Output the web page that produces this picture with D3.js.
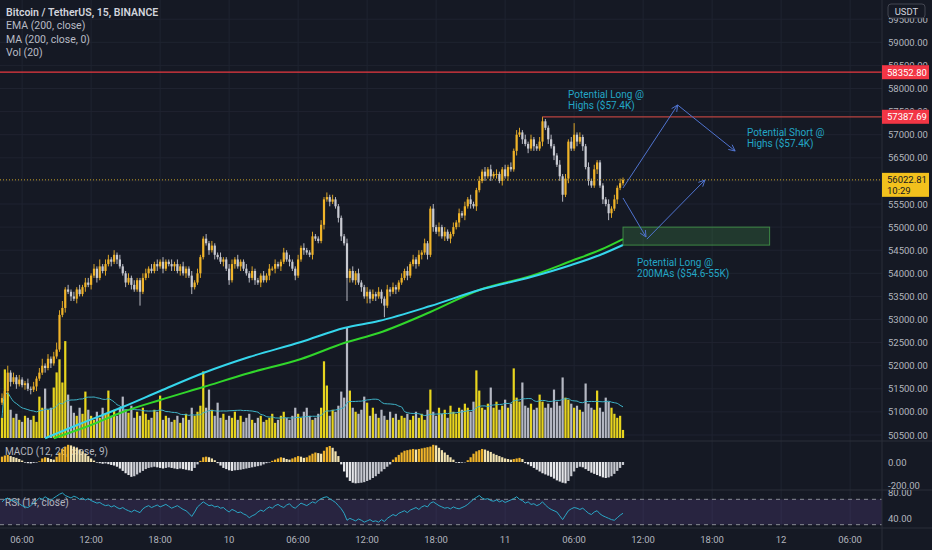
<!DOCTYPE html>
<html><head><meta charset="utf-8">
<script src="https://cdn.jsdelivr.net/npm/d3@7"></script>
<style>
html,body{margin:0;padding:0;background:#151924;overflow:hidden}
svg{display:block}
text{font-family:Roboto,"Noto Sans",sans-serif}
</style></head><body>
<svg id="c" width="932" height="550"></svg>
<script>
// ---------------- DATA ----------------
const firstOpen = 51200;
const closes = [
51300,51450,51850,51650,51750,51600,51700,51580,51620,51500,
51480,51550,51720,51850,52000,51950,52150,52050,52200,52350,
53100,53250,53650,53600,53500,53450,53650,53550,53700,53800,
53750,53950,54100,53900,54150,54050,54200,54300,54250,54400,
54300,54150,54000,53800,53900,53750,53650,53850,53600,53900,
54000,54100,54050,54200,54150,54250,54100,54250,54200,54150,
54200,54050,54150,54000,54100,53950,53700,53800,54000,54350,
54750,54650,54500,54600,54400,54350,54250,54300,54100,53850,
54200,54300,54150,54250,54100,54000,53900,54050,53850,53800,
53950,53850,53950,54100,54100,54200,54150,54250,54450,54300,
54250,54100,53950,54300,54550,54500,54450,54400,54800,54750,
54700,55050,55600,55650,55550,55600,55450,55200,54800,54650,
53900,54050,53850,54000,53800,53700,53500,53600,53450,53550,
53500,53600,53450,53300,53650,53600,53700,53650,53800,53900,
54050,53950,54200,54300,54200,54400,54450,54650,54400,55400,
55000,54900,55000,54800,54900,54750,54850,55000,55100,55300,
55250,55450,55600,55500,55450,55800,56000,56200,56100,56250,
56100,56150,56150,56000,56250,56100,56300,56250,56650,57000,
57050,56900,56800,56700,56900,56750,56700,56850,57290,57150,
56900,56750,56550,56350,56100,55700,56050,56850,56700,57000,
56850,56950,56750,56300,56000,55900,56250,56400,55900,55600,
55500,55300,55400,55600,55850,55950,56022.81];
// wick extents beyond the body, in units of $50
const wickUp = [
2,1,3,1,2,1,2,1,1,2, 1,2,1,2,3,1,2,1,2,3, 2,3,1,2,1,2,1,2,1,2, 2,1,2,1,3,1,2,2,1,2,
1,2,1,1,2,1,2,1,1,2, 2,1,2,1,2,1,2,1,1,2, 1,2,1,2,1,1,2,1,2,1, 1,2,1,2,1,1,2,1,1,2,
2,1,2,1,1,2,1,2,1,1, 1,2,1,2,1,2,1,1,2,1, 2,1,1,2,1,2,1,1,2,1, 1,2,1,2,1,2,1,1,1,1,
2,1,2,1,2,1,1,2,1,2, 1,2,1,1,2,1,2,1,1,2, 1,2,1,2,1,2,1,2,1,1, 2,1,2,1,2,1,1,2,1,2,
1,2,1,2,1,1,2,1,2,1, 2,1,2,1,1,2,1,2,1,2, 2,1,2,1,2,1,1,2,2,1, 1,2,1,1,2,1,2,1,2,5,
1,2,1,1,2,1,2,1,1,1, 1,2,1,2,1,2,1];
const wickDn = [
1,2,1,2,1,2,1,1,2,1, 2,1,2,1,1,2,1,2,1,1, 1,1,2,1,2,1,2,1,1,2, 1,2,1,2,1,1,2,1,2,1,
2,1,1,2,1,2,1,1,6,1, 1,2,1,1,2,1,2,1,1,2, 2,1,2,1,2,1,3,1,1,2, 1,1,2,1,2,1,1,2,1,2,
1,2,1,2,1,1,2,1,2,1, 2,1,1,2,1,2,1,2,1,1, 2,1,2,1,1,2,1,1,2,1, 1,1,2,1,2,1,1,2,2,1,
10,2,1,2,1,2,1,3,2,1, 2,1,2,5,1,2,1,2,1,1, 1,2,1,1,2,1,2,1,2,1, 2,1,2,1,2,1,2,1,1,2,
1,2,1,2,1,2,1,1,2,1, 2,1,2,1,2,1,2,1,1,2, 1,2,1,2,1,2,1,1,2,1, 2,1,2,1,2,3,1,2,1,1,
2,1,2,1,2,1,1,2,1,2, 1,3,2,1,2,1,1];
// volume (x30 BTC)
const volume = [
20,68,45,28,20,24,18,16,22,20, 18,22,16,41,30,49,28,30,50,65,
78,55,96,43,32,25,22,30,24,46, 28,22,18,26,20,30,24,47,22,28,
22,30,41,28,25,32,20,26,22,30, 24,18,20,28,26,42,18,22,20,16,
18,22,15,20,24,18,30,22,26,32, 66,30,48,28,22,35,20,24,18,22,
20,26,18,22,16,20,24,18,15,20, 22,16,18,20,24,15,18,22,26,20,
18,22,30,24,20,26,30,22,18,20, 24,30,76,52,22,28,26,32,46,40,
110,47,30,26,24,28,41,35,22,30, 24,20,28,22,18,26,20,24,18,22,
20,24,18,22,26,20,24,18,28,48, 26,22,30,24,28,20,32,26,24,30,
28,34,30,26,36,67,47,30,28,34, 50,30,36,28,32,38,30,34,69,40,
36,55,32,30,34,28,30,43,36,30, 34,30,48,36,32,60,40,38,34,30,
32,28,26,54,34,30,28,47,30,26, 40,36,30,24,20,22,8];
const macdHist = [
45,55,60,50,42,35,25,12, -5,-10,-12,-8,-5,5, 30,40,35,25, 20,45,
80,110,130,145,140,130,120,105,90,70,50,30,12,
-5,-10,-15,-12,-18,-25,-30,-40, -55,-75,-95,-110,-125,-120,-105,-90,
-75,-60,-50,-45,-40,-45,-50,-55,-50,-45,-50,-55,-60,-55,-60,-65,-70,-75,
-50,-20,10, 40,45,40,30,15,
-10,-30,-50,-60,-70,-75,-70,-68,-65,-60,-55,-50,-45,-40,-35,-30,-20,-10,-5,
10,20,30,40,35,25,20,30,40,50,45,35,40,55,70,80,75,70,95,125,135,120,90,50,
-20,-80,-130,-160,-175,-180,-178,-175,-170,-160,-150,-135,-120,-100,-80,-60,-40,-20,
20,40,60,80,95,100,105,110,105,110,115,120,125,130,145,140,120,100,80,60,40,20,
-5,-8,-6,-3,
15,40,70,90,100,110,105,95,85,70,60,50,40,30,25,20,25,
30,35,25,
-10,-20,-35,-50,-65,-80,-95,-105,-115,-125,-140,-155,-165,-175,-180,-160,-120,-80,-50,-40,
-45,-60,-75,-90,-100,-110,-120,-130,-135,-130,-120,-100,-75,-50,-25];
const rsi = [
66,70,72,68,69,67, 63,60,58,57, 60,64,68,72,
70,74,71,68,72,75,78,80,76,74,72,75,73,70,72,69,71,68,
66,64,65,62,60,61,58,60,57,55,57,54,52,50,53,51,
49,55,58,60,57,59,61,58,60,62,59,56,58,60,57,54,52,48,
43,50,58, 62,66,63,
60,61,58,59,56,57,53,50,54,52,49,50,47,45,41,44,46,
50,53,51,55,58,56,60,62,59,57,61,63,58,56,60,64,62,60,63,66,64,68,71,73,74,71,
68,65,60,55,48,
37,40,38,36,39,37,34,36,38,35,36,34,38,
35,40,43,46,44,48,50,52,49,53,55,57,54,58,60,58,64,66,63,
60,58,56,57,55,58,56,55,57,59,62,66,70,73,
76,72,70,71,68,67,69,66,68,65,67,69,71,74,70,
68,64,66,62,63,60,62,66,61,57,54,52,50,
44,38,45, 52,55,57,56,54,56,
52,48,46,50,52,47,44,42,40,38,37,41,45,48];
// [bar index, value]
const emaPoints = [[15,50430],[27,50738],[42,51106],[55,51452],[70,51842],[86,52188],[104,52513],[119,52816],[131,52968],[149,53292],[166,53638],[184,53920],[198,54180],[208,54396],[216,54613]];
const maPoints  = [[18,50430],[31,50716],[42,50998],[55,51258],[70,51539],[86,51842],[104,52145],[119,52491],[131,52708],[149,53162],[166,53638],[184,53942],[198,54266],[208,54504],[216,54742]];
const priceTicks = [50500,51000,51500,52000,52500,53000,53500,54000,54500,55000,55500,56000,56500,57000,57500,58000,58500,59000,59500];
const timeLabels = ["06:00","12:00","18:00","10","06:00","12:00","18:00","11","06:00","12:00","18:00","12","06:00"];
const macdTicks = [0,-200];
const rsiTicks = [80,40];
const levels = [{p:58352.80, from:-5, color:"#e8393f"},{p:57387.69, from:188, color:"#b8433f"}];
const lastPrice = 56022.81, countdown = "10:29";
const annoBox = {i0:216, i1:267, p0:54610, p1:55000};
const annoArrows = [[[216,55846],[235,57643]],[[235,57643],[255,56647]],[[216,55630],[224,54786]],[[224.3,54740],[244.5,56019]]];
const annoTexts = [
 {i:196.9, p:57794, lines:["Potential Long @","Highs ($57.4K)"]},
 {i:259.1, p:56972, lines:["Potential Short @","Highs ($57.4K)"]},
 {i:220.9, p:54158, lines:["Potential Long @","200MAs ($54.6-55K)"]}];
const legend = ["Bitcoin / TetherUS, 15, BINANCE","EMA (200, close)","MA (200, close, 0)","Vol (20)"];

// ---------------- LAYOUT ----------------
const W=932,H=550, AX=882;
const MAIN=[0,441], MACDP=[441,490], RSIP=[490,528];
const BW=2.875, X0=2, MS=15*60*1000, t0=Date.UTC(2021,2,9,4,15);
const C = {bg:"#151924", grid:"#1f2330", sep:"#2a2e39", txt:"#b2b5be", up:"#f0b429", dn:"#c8cad2",
  vup:"#e8d51e", vdn:"#b5b8c3", ema:"#35d6ec", ma:"#31d62b", rsi:"#2aa7c6", anno:"#23a6c6", arrow:"#4f73cf"};

const svg = d3.select("#c");
svg.append("rect").attr("width",W).attr("height",H).attr("fill",C.bg);
const defs = svg.append("defs");
const clip=(id,y0,y1,x0=0,x1=AX)=>defs.append("clipPath").attr("id",id).append("rect").attr("x",x0).attr("y",y0).attr("width",x1-x0).attr("height",y1-y0);
clip("cm",MAIN[0],MAIN[1]); clip("cmacd",MACDP[0],MACDP[1]); clip("crsi",RSIP[0],RSIP[1]);
clip("cmacdAx",MACDP[0],MACDP[1],AX,W); clip("crsiAx",RSIP[0],RSIP[1],AX,W);

const xI = d3.scaleLinear().domain([0,306]).range([X0, X0+306*BW]);
const xT = d3.scaleUtc().domain([new Date(t0), new Date(t0+306*MS)]).range([X0, X0+306*BW]);
const y = d3.scaleLinear().domain([50500,59000]).range([435,42.3]);
const yV = d3.scaleLinear().domain([0,d3.max(volume)]).range([438,327]);
const yM = d3.scaleLinear().domain([-200,0]).range([485.7,462]);
const yR = d3.scaleLinear().domain([30,70]).range([524.7,499.3]);

// tag bands on the price axis (labels are hidden under them, as in the platform)
const tags = levels.map(L=>[y(L.p)-7,y(L.p)+7]).concat([[y(lastPrice)-7,y(lastPrice)+17],[4,18]]).sort((a,b)=>a[0]-b[0]);
const pcl = defs.append("clipPath").attr("id","cpAx");
let cur=0; tags.forEach(([a,b])=>{ if(a>cur) pcl.append("rect").attr("x",AX).attr("y",cur).attr("width",W-AX).attr("height",a-cur); cur=Math.max(cur,b);});
pcl.append("rect").attr("x",AX).attr("y",cur).attr("width",W-AX).attr("height",MAIN[1]-cur);

// grid
const tTicks = xT.ticks(d3.utcHour.every(6)).slice(0, timeLabels.length);
const g = svg.append("g");
g.selectAll("line.v").data(tTicks).join("line").attr("x1",d=>xT(d)).attr("x2",d=>xT(d)).attr("y1",0).attr("y2",528).attr("stroke",C.grid);
g.selectAll("line.h").data(priceTicks).join("line").attr("x1",0).attr("x2",AX).attr("y1",d=>y(d)).attr("y2",d=>y(d)).attr("stroke",C.grid).attr("clip-path","url(#cm)");

// legend
legend.forEach((t,k)=>svg.append("text").attr("x",6).attr("y",16+k*13.3).attr("font-size",10.5)
  .attr("font-weight",k?400:600).attr("fill",k?"#b8bbc4":"#d1d4dc").text(t));

// main pane
const m = svg.append("g").attr("clip-path","url(#cm)");
const bars = closes.map((c,i)=>{const o=i?closes[i-1]:firstOpen; return {i,o,c,h:Math.max(o,c)+wickUp[i]*50,l:Math.min(o,c)-wickDn[i]*50,up:c>=o,v:volume[i]};});
m.selectAll("rect.vol").data(bars).join("rect").attr("x",d=>xI(d.i)-1.1).attr("width",2.2)
  .attr("y",d=>yV(d.v)).attr("height",d=>yV(0)-yV(d.v)).attr("fill",d=>d.up?C.vup:C.vdn);
// vol MA(20)
const vma = volume.map((v,i)=>{const s=volume.slice(Math.max(0,i-19),i+1);return [i,d3.mean(s)];});
m.append("path").attr("d",d3.line().x(d=>xI(d[0])).y(d=>yV(d[1])).curve(d3.curveMonotoneX)(vma))
  .attr("fill","none").attr("stroke","#3fb5c9").attr("stroke-width",1);
// candles
m.selectAll("line.wk").data(bars).join("line").attr("x1",d=>xI(d.i)).attr("x2",d=>xI(d.i))
  .attr("y1",d=>y(d.h)).attr("y2",d=>y(d.l)).attr("stroke",d=>d.up?C.up:C.dn).attr("stroke-width",0.9);
m.selectAll("rect.bd").data(bars).join("rect").attr("x",d=>xI(d.i)-1.1).attr("width",2.2)
  .attr("y",d=>y(Math.max(d.o,d.c))).attr("height",d=>Math.max(1,Math.abs(y(d.o)-y(d.c)))).attr("fill",d=>d.up?C.up:C.dn);
// moving averages
const ln = d3.line().x(d=>xI(d[0])).y(d=>y(d[1])).curve(d3.curveMonotoneX);
m.append("path").attr("d",ln(maPoints)).attr("fill","none").attr("stroke",C.ma).attr("stroke-width",2);
m.append("path").attr("d",ln(emaPoints)).attr("fill","none").attr("stroke",C.ema).attr("stroke-width",2);
// levels
levels.forEach(L=>m.append("line").attr("x1",xI(L.from)).attr("x2",AX).attr("y1",y(L.p)).attr("y2",y(L.p)).attr("stroke",L.color).attr("stroke-width",1.2));
m.append("line").attr("x1",0).attr("x2",AX).attr("y1",y(lastPrice)).attr("y2",y(lastPrice)).attr("stroke","#c9a227").attr("stroke-dasharray","1,2");
// annotations
m.append("rect").attr("x",xI(annoBox.i0)).attr("width",xI(annoBox.i1)-xI(annoBox.i0))
  .attr("y",y(annoBox.p1)).attr("height",y(annoBox.p0)-y(annoBox.p1))
  .attr("fill","rgba(76,175,80,0.22)").attr("stroke","#4caf50").attr("stroke-opacity",0.7);
annoArrows.forEach(([s,e])=>{
  const x1=xI(s[0]),y1=y(s[1]),x2=xI(e[0]),y2=y(e[1]);
  const a=Math.atan2(y2-y1,x2-x1), L=7, w=0.45;
  m.append("path").attr("d",`M${x1},${y1}L${x2},${y2}M${x2-L*Math.cos(a-w)},${y2-L*Math.sin(a-w)}L${x2},${y2}L${x2-L*Math.cos(a+w)},${y2-L*Math.sin(a+w)}`)
   .attr("fill","none").attr("stroke",C.arrow).attr("stroke-width",1);
});
annoTexts.forEach(t=>t.lines.forEach((s,k)=>m.append("text").attr("x",xI(t.i)).attr("y",y(t.p)+k*10.8)
  .attr("font-size",10).attr("fill",C.anno).text(s)));

// MACD pane
const mp = svg.append("g");
mp.append("text").attr("x",5).attr("y",455).attr("font-size",10).attr("fill",C.txt).text("MACD (12, 26, close, 9)");
const mg = mp.append("g").attr("clip-path","url(#cmacd)");
mg.selectAll("rect").data(macdHist).join("rect").attr("x",(d,i)=>xI(i)-1.1).attr("width",2.2)
  .attr("y",d=>Math.min(yM(0),yM(d))).attr("height",d=>Math.abs(yM(d)-yM(0)))
  .attr("fill",(d,i)=>{const p=i?macdHist[i-1]:d; return d>=0?(d>=p?"#f0b429":"#f4e4b0"):(d<=p?"#e6e7ea":"#c6c8cf");});

// RSI pane
const rg = svg.append("g").attr("clip-path","url(#crsi)");
rg.append("rect").attr("x",0).attr("width",AX).attr("y",yR(70)).attr("height",yR(30)-yR(70)).attr("fill","rgba(126,87,194,0.18)");
[70,30].forEach(v=>rg.append("line").attr("x1",0).attr("x2",AX).attr("y1",yR(v)).attr("y2",yR(v)).attr("stroke","#8a8d96").attr("stroke-dasharray","4,4"));
rg.append("text").attr("x",5).attr("y",506).attr("font-size",10).attr("fill",C.txt).text("RSI (14, close)");
rg.append("path").attr("d",d3.line().x((d,i)=>xI(i)).y(d=>yR(d))(rsi)).attr("fill","none").attr("stroke",C.rsi).attr("stroke-width",1);

// separators
[MACDP[0],RSIP[0],RSIP[1]].forEach(v=>svg.append("line").attr("x1",0).attr("x2",W).attr("y1",v).attr("y2",v).attr("stroke",C.sep));
svg.append("line").attr("x1",AX).attr("x2",AX).attr("y1",0).attr("y2",H).attr("stroke",C.sep);

// axes
const ax = svg.append("g").attr("font-size",9.5).attr("fill",C.txt);
const axP = ax.append("g").attr("clip-path","url(#cpAx)");
priceTicks.forEach(p=>axP.append("text").attr("x",888).attr("y",y(p)+3.5).text(p.toFixed(2)));
const axM = ax.append("g").attr("clip-path","url(#cmacdAx)");
macdTicks.forEach(v=>axM.append("text").attr("x",888).attr("y",yM(v)+3.5).text(v.toFixed(2)));
const axR = ax.append("g").attr("clip-path","url(#crsiAx)");
rsiTicks.forEach(v=>axR.append("text").attr("x",888).attr("y",yR(v)+3.5).text(v.toFixed(2)));
tTicks.forEach((t,k)=>ax.append("text").attr("x",xT(t)).attr("y",543).attr("text-anchor","middle").text(timeLabels[k]));

// USDT
svg.append("rect").attr("x",888).attr("y",4).attr("width",37).attr("height",14).attr("rx",3).attr("fill",C.bg).attr("stroke","#434651");
svg.append("text").attr("x",906.5).attr("y",14.5).attr("text-anchor","middle").attr("font-size",9.5).attr("fill","#d1d4dc").text("USDT");
// price tags
levels.forEach(L=>{svg.append("rect").attr("x",AX).attr("y",y(L.p)-7).attr("width",47).attr("height",14).attr("fill","#f23645");
  svg.append("text").attr("x",887).attr("y",y(L.p)+3.5).attr("font-size",9.5).attr("fill","#fff").text(L.p.toFixed(2));});
svg.append("rect").attr("x",AX).attr("y",y(lastPrice)-7).attr("width",47).attr("height",24).attr("fill","#f3c11d");
svg.append("text").attr("x",887).attr("y",y(lastPrice)+3.5).attr("font-size",9.5).attr("fill","#131722").text(lastPrice.toFixed(2));
svg.append("text").attr("x",887).attr("y",y(lastPrice)+14).attr("font-size",9.5).attr("fill","#131722").text(countdown);
</script></body></html>
